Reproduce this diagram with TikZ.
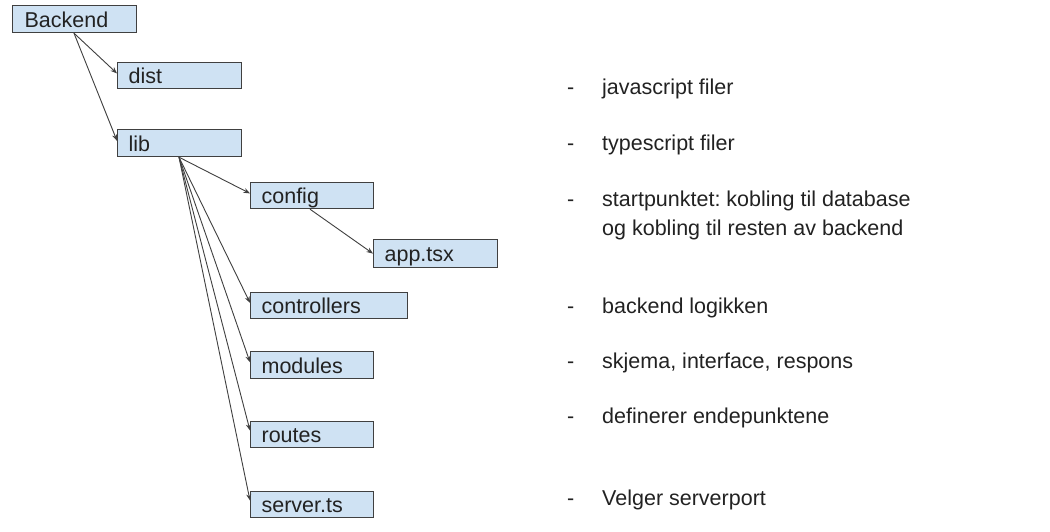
\documentclass[tikz,border=0pt]{standalone}
\usepackage{fontspec}
\setmainfont{Liberation Sans}
\usetikzlibrary{arrows.meta,calc}
\definecolor{boxfill}{HTML}{CFE2F3}
\definecolor{boxline}{HTML}{404040}
\definecolor{txt}{HTML}{222222}
\frenchspacing
\begin{document}
\begin{tikzpicture}[x=1pt,y=-1pt,
  box/.style={draw=boxline,fill=boxfill,line width=1.2pt,anchor=north west,
    rectangle,inner xsep=0pt,inner ysep=0pt,align=left,text=txt,
    text height=16pt,text depth=0pt,
    font=\fontsize{21.5}{24}\selectfont},
  conn/.style={draw=boxline,line width=0.9pt,-{Stealth[length=6.5pt,width=5pt]}},
  note/.style={anchor=base west,inner sep=0pt,text=txt,font=\fontsize{21.5}{24}\selectfont}]
\useasboundingbox (0,0) rectangle (1050,532);
\fill[white] (0,0) rectangle (1050,532);
% boxes
\node[box,minimum width=124pt,minimum height=27pt,text width=124pt] (backend) at (12,5) {\hspace*{12pt}Backend};
\node[box,minimum width=124pt,minimum height=26pt,text width=124pt] (dist) at (117,62) {\hspace*{11pt}dist};
\node[box,minimum width=124pt,minimum height=27pt,text width=124pt] (lib) at (117,129) {\hspace*{11pt}lib};
\node[box,minimum width=123pt,minimum height=26pt,text width=123pt] (config) at (250,182) {\hspace*{11pt}config};
\node[box,minimum width=124pt,minimum height=28pt,text width=124pt] (app) at (373,239) {\hspace*{11pt}app.tsx};
\node[box,minimum width=157pt,minimum height=26pt,text width=157pt] (controllers) at (250,292) {\hspace*{11pt}controllers};
\node[box,minimum width=123pt,minimum height=27pt,text width=123pt] (modules) at (250,351) {\hspace*{11pt}modules};
\node[box,minimum width=123pt,minimum height=26pt,text width=123pt] (routes) at (250,421) {\hspace*{11pt}routes};
\node[box,minimum width=123pt,minimum height=26pt,text width=123pt] (server) at (250,491) {\hspace*{11pt}server.ts};
% start points
\coordinate (bs) at ($(backend.south west)+(62,0)$);
\coordinate (ls) at ($(lib.south west)+(62,0)$);
\coordinate (cs) at ($(config.south west)+(60,0)$);
% connectors
\draw[conn] (bs) -- ($(dist.north west)!0.42!(dist.south west)$);
\draw[conn] (bs) -- ($(lib.north west)!0.42!(lib.south west)$);
\draw[conn] (ls) -- ($(config.north west)!0.42!(config.south west)$);
\draw[conn] (cs) -- ($(app.north west)!0.5!(app.south west)$);
\draw[conn] (ls) -- ($(controllers.north west)!0.4!(controllers.south west)$);
\draw[conn] (ls) -- ($(modules.north west)!0.4!(modules.south west)$);
\draw[conn] (ls) -- ($(routes.north west)!0.35!(routes.south west)$);
\draw[conn] (ls) -- ($(server.north west)!0.35!(server.south west)$);
% notes
\node[note] (n1) at (567,95) {\makebox[35pt][l]{-}javascript filer};
\node[note] (n2) at (567,150) {\makebox[35pt][l]{-}typescript filer};
\node[note] (n3) at (567,206) {\makebox[35pt][l]{-}startpunktet: kobling til database};
\node[note] (n3b) at (602,235) {og kobling til resten av backend};
\node[note] (n4) at (567,313) {\makebox[35pt][l]{-}backend logikken};
\node[note] (n5) at (567,368) {\makebox[35pt][l]{-}skjema, interface, respons};
\node[note] (n6) at (567,423) {\makebox[35pt][l]{-}definerer endepunktene};
\node[note] (n7) at (567,505) {\makebox[35pt][l]{-}Velger serverport};
\end{tikzpicture}
\end{document}
